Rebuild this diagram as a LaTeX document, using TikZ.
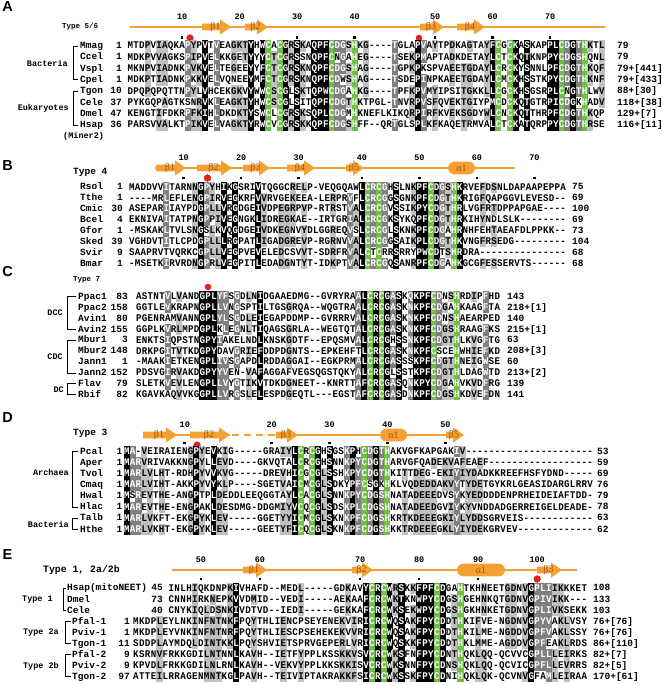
\documentclass[tikz,border=0pt]{standalone}
\usepackage{fontspec}
\setmainfont{Liberation Serif}
\newfontfamily\monofont{Liberation Mono}
\newfontfamily\seqfont[FakeStretch=0.9]{Liberation Mono}
\newfontfamily\panelfont{Liberation Sans}
\usepackage{tikz}
\usetikzlibrary{calc}
\definecolor{SSo}{RGB}{245,160,50}
\definecolor{SSt}{RGB}{160,85,15}
\definecolor{CG}{RGB}{112,190,70}
\definecolor{DGr}{RGB}{128,128,128}
\definecolor{LGr}{RGB}{192,192,192}
\definecolor{CR}{RGB}{232,32,32}

% current block: letter, x of column 1, column width, y of row 1, row step,
% x of names, right x of start numbers, x of end numbers
\def\alnp{A}\def\alnx{0}\def\alnw{5.75}\def\alny{0}\def\alnh{11}
\def\alnnx{80}\def\alnsx{122}\def\alnex{617}
\newcount\alnk

\ExplSyntaxOn
\seq_new:N \g__aln_rows_seq
\seq_new:N \l__aln_grp_seq
\clist_new:N \l__aln_green_clist
\tl_new:N \l__aln_char_tl
\tl_new:N \l__aln_grp_tl
\tl_new:N \l__aln_best_tl
\tl_new:N \l__aln_level_tl
\tl_new:N \l__aln_style_tl
\int_new:N \l__aln_best_int
\int_new:N \l__aln_cnt_int
\int_new:N \l__aln_n_int
\int_new:N \l__aln_len_int
\int_new:N \l__aln_row_int
% similarity groups
\cs_new:Npn \__aln_group:n #1
  {
    \str_case:nnF {#1}
      {
        {I}{h} {L}{h} {V}{h} {M}{h} {F}{h} {Y}{h} {W}{h}
        {K}{k} {R}{k} {D}{d} {E}{d} {S}{s} {T}{s} {N}{n} {Q}{n}
        {-}{} {.}{}
      }
      {#1}
  }
\cs_generate_variant:Nn \__aln_group:n { V }
\cs_new:Npn \__aln_isch:n #1
  { \str_case:nnF {#1} { {C}{y} {H}{y} } {n} }
\cs_generate_variant:Nn \__aln_isch:n { V }
\NewDocumentCommand \alnstore { m }
  { \seq_gput_right:Nn \g__aln_rows_seq {#1} }
\NewDocumentCommand \alnreset { }
  { \seq_gclear:N \g__aln_rows_seq \int_gzero:N \alnk }
\cs_new_protected:Npn \__aln_getchar:nn #1#2
  {
    \tl_set:Nx \l__aln_char_tl { \tl_item:nn {#1} {#2} }
    \tl_if_empty:NT \l__aln_char_tl { \tl_set:Nn \l__aln_char_tl {-} }
  }
\cs_new_protected:Npn \__aln_column:n #1
  {
    \seq_clear:N \l__aln_grp_seq
    \seq_map_inline:Nn \g__aln_rows_seq
      {
        \__aln_getchar:nn {##1} {#1}
        \seq_put_right:Nx \l__aln_grp_seq { \__aln_group:V \l__aln_char_tl }
      }
    \int_zero:N \l__aln_best_int
    \tl_clear:N \l__aln_best_tl
    \seq_map_inline:Nn \l__aln_grp_seq
      {
        \tl_if_empty:nF {##1}
          {
            \int_zero:N \l__aln_cnt_int
            \seq_map_inline:Nn \l__aln_grp_seq
              { \tl_if_eq:nnT {##1} {####1} { \int_incr:N \l__aln_cnt_int } }
            \int_compare:nNnT { \l__aln_cnt_int } > { \l__aln_best_int }
              {
                \int_set_eq:NN \l__aln_best_int \l__aln_cnt_int
                \tl_set:Nn \l__aln_best_tl {##1}
              }
          }
      }
    \int_compare:nNnTF { \l__aln_best_int } = { \l__aln_n_int }
      { \tl_set:Nn \l__aln_level_tl { cb } }
      {
        \int_compare:nNnTF { 5 * \l__aln_best_int } < { 3 * \l__aln_n_int }
          { \tl_set:Nn \l__aln_level_tl { cn } }
          {
            \int_compare:nNnTF { 5 * \l__aln_best_int } < { 4 * \l__aln_n_int }
              { \tl_set:Nn \l__aln_level_tl { cl } }
              { \tl_set:Nn \l__aln_level_tl { cd } }
          }
      }
    \int_zero:N \l__aln_row_int
    \seq_map_inline:Nn \g__aln_rows_seq
      {
        \int_incr:N \l__aln_row_int
        \__aln_getchar:nn {##1} {#1}
        \tl_set:Nx \l__aln_grp_tl { \__aln_group:V \l__aln_char_tl }
        \tl_set:Nn \l__aln_style_tl { cn }
        \tl_if_empty:NF \l__aln_grp_tl
          {
            \tl_if_eq:NNT \l__aln_grp_tl \l__aln_best_tl
              { \tl_set_eq:NN \l__aln_style_tl \l__aln_level_tl }
          }
        \clist_if_in:NnT \l__aln_green_clist {#1}
          {
            \str_if_eq:eeT { \__aln_isch:V \l__aln_char_tl } { y }
              { \tl_set:Nn \l__aln_style_tl { cg } }
          }
        \use:e
          {
            \exp_not:N \alncell
              { \l__aln_style_tl } { #1 }
              { \int_use:N \l__aln_row_int } { \l__aln_char_tl }
          }
      }
  }
\NewDocumentCommand \alndraw { m }
  {
    \clist_set:Nn \l__aln_green_clist {#1}
    \int_set:Nn \l__aln_n_int { \seq_count:N \g__aln_rows_seq }
    \int_zero:N \l__aln_len_int
    \seq_map_inline:Nn \g__aln_rows_seq
      {
        \int_set:Nn \l__aln_len_int
          { \int_max:nn { \l__aln_len_int } { \tl_count:n {##1} } }
      }
    \int_step_function:nN { \l__aln_len_int } \__aln_column:n
  }
\ExplSyntaxOff

\newcommand\alncell[4]{%
  \ifx.#4\else
    \node[#1] (\alnp-#3-#2) at ({\alnx+(#2-0.5)*\alnw},{\alny+(#3-1)*\alnh}) {#4};
  \fi}
\newcommand\alnrow[4]{%
  \global\advance\alnk by 1
  \node[seqname] (\alnp n\the\alnk) at (\alnnx,{\alny+(\the\alnk-1)*\alnh}) {#1};
  \node[seqnum, anchor=east] (\alnp s\the\alnk) at (\alnsx,{\alny+(\the\alnk-1)*\alnh}) {#2};
  \node[seqnum] (\alnp e\the\alnk) at (\alnex,{\alny+(\the\alnk-1)*\alnh}) {#4};
  \alnstore{#3}}
\newcommand\colx[1]{\alnx+(#1-0.5)*\alnw}
\newcommand\bstrand[5]{%
  \fill[SSo] (#2,{#4-3.4}) -- ({#3-11},{#4-3.4}) -- ({#3-11},{#4-7.6})
    -- (#3,#4) -- ({#3-11},{#4+7.6}) -- ({#3-11},{#4+3.4}) -- (#2,{#4+3.4}) -- cycle;
  \node[sslbl] (#1) at ({(#2+#3)/2-1},#4) {#5};}
\newcommand\ahelix[5]{%
  \fill[SSo, rounded corners=6.3pt] (#2,{#4-6.3}) rectangle (#3,{#4+6.3});
  \node[sslbl] (#1) at ({(#2+#3)/2},#4) {#5};}
\newcommand\rmark[2]{\fill ({\colx{#1}-1.3},{#2-1.3}) rectangle ++(2.6,2.6);}

\begin{document}
\begin{tikzpicture}[x=1pt,y=-1pt,
  cell/.style={inner sep=0pt, minimum width=\alnw pt+0.3pt, minimum height=\alnh pt+0.3pt,
    text height=6.6pt, text depth=1pt, font=\seqfont\bfseries\fontsize{10.2}{10}\selectfont},
  cn/.style={cell}, cb/.style={cell, fill=black, text=white},
  cd/.style={cell, fill=DGr, text=white}, cl/.style={cell, fill=LGr},
  cg/.style={cell, fill=CG, text=white},
  seqname/.style={inner sep=0pt, anchor=west, text height=6.3pt, text depth=1pt,
    font=\monofont\bfseries\fontsize{9.5}{10}\selectfont},
  seqnum/.style={seqname},
  grplbl/.style={inner sep=0pt, anchor=east, font=\monofont\bfseries\fontsize{8.5}{9}\selectfont},
  typelbl/.style={inner sep=0pt, anchor=west, font=\monofont\bfseries\fontsize{#1}{#1}\selectfont},
  rnum/.style={inner sep=0pt, font=\monofont\bfseries\fontsize{8.5}{9}\selectfont},
  plbl/.style={inner sep=0pt, font=\panelfont\bfseries\fontsize{14.5}{15}\selectfont},
  sslbl/.style={inner sep=0pt, text=SSt, font=\fontsize{10}{10}\selectfont},
  ssl/.style={draw=SSo, line width=2.4pt},
  brk/.style={draw=black, line width=0.9pt}
]
\fill[white] (0,0) rectangle (662,685);
\useasboundingbox (0,0) rectangle (662,685);

% ---------- A: type 5/6
\def\alnp{A}\def\alnx{127.5}\def\alnw{5.75}\def\alny{46}\def\alnh{11.3}
\def\alnnx{80}\def\alnsx{122}\def\alnex{617}
\alnreset
\node[plbl] (pA) at (7.5,7) {A};
\node[typelbl=7.5] (tA) at (62,27) {Type 5/6};
\draw[ssl] (130,27) -- (605,27);
\bstrand{A1}{202}{231}{27}{β1}
\bstrand{A2}{245}{268}{27}{β2}
\bstrand{A3}{420}{444}{27}{β3}
\bstrand{A4}{457}{485}{27}{β4}
\foreach \n/\c in {10/10,20/20,30/30,40/40,50/54,60/64,70/74}
  \node[rnum] (Ar\n) at ({\colx{\c}},17) {\n};
\foreach \c in {10,30,40,54,64,74} \rmark{\c}{37.5}
\fill[CR] (190,38) circle (3.3);
\fill[CR] (419,38) circle (3.3);
\alnrow{Mmag}{1}{MTDPVIAQKAPYPVTVEAGKTYHWCACGRSKAQPFCDGSHKG----TGLAPVAYTPDKAGTAYFCGCKASKAPPLCDGTHKTL}{79}
\alnrow{Ccel}{1}{MDKPVVAGKSPIPVELKKGETYYYCTCGRSSNQPFCNGAHEG----TSEKPMAPTADKDETAYLCTCKQTKNPPYCDGSHQNL}{79}
\alnrow{Vspl}{1}{MKNPVIADNKPVKVELTEGEEYYFCTCGRSKNQPFCDGSHAG----TGPKPKSPVAEETGDAYLCRCKYSNNLPFCDGTHKQF}{79+[441]}
\alnrow{Cpel}{1}{MDKPTIADNKPKKVELVQNEEYMFCTCGRSKNQPFCDWSHAG----TSDEPINPKAEETGDAYLCMCKHSSTKPYCDGTHKNF}{79+[433]}
\alnrow{Tgon}{10}{DPQPQPQTTNPYLVHCEKGKVYWWCSCGLSKTQPWCDGAHKG----TPFKPVMYIPSITGKKLLCGCKHSGSRPLCNGTHLWV}{88+[30]}
\alnrow{Cele}{37}{PYKGQPAGTKSNRVKLEAGKTYHWCSCGLSITQPFCDGTHKTPGL-TNVRPVSFQVEKTGIYPMCDCKQTGTRPICDGKHADV}{118+[38]}
\alnrow{Dmel}{47}{KENGTIFDKRPFKIHLDKDKTYSWCLCGRSKSQPLCDGMHKNEFLKIKQRPIRFKVEKSGDYWLCNCKQTTHRPFCDGTHKQP}{129+[7]}
\alnrow{Hsap}{36}{PARSVVALKTPIKVELVAGKTYRWCVCGRSKKQPFCDGSHFF--QRTGLSPLKFKAQETRMVALCTCKATQRPPYCDGTHRSE}{116+[11]}
\alndraw{25,27,36,40,65,67,76,80}
\node[grplbl] (gA1) at (68,63) {Bacteria};
\node[grplbl] (gA2) at (69,108) {Eukaryotes};
\node[grplbl, anchor=west] (gA3) at (63,136) {(Miner2)};
\draw[brk] ([xshift=-2pt]An1.west) -- ++(-5,0) |- ([xshift=-2pt]An4.west);
\draw[brk] ([xshift=-2pt]An5.west) -- ++(-5,0) |- ([xshift=-2pt]An8.west);

% ---------- B: type 4
\def\alnp{B}\def\alnx{129}\def\alnw{5.75}\def\alny{187.3}\def\alnh{10.9}
\def\alnnx{80}\def\alnsx{123}\def\alnex{572}
\alnreset
\node[plbl] (pB) at (7.5,166) {B};
\node[typelbl=9.5] (tB) at (73,172) {Type 4};
\draw[ssl] (155,168) -- (515,168);
\bstrand{B1}{156}{186}{168}{β1}
\bstrand{B2}{197}{232}{168}{β2}
\bstrand{B3}{243}{270}{168}{β3}
\bstrand{B4}{287}{315}{168}{β4}
\bstrand{B5}{346}{364}{168}{β5}
\ahelix{Ba}{448}{475}{168}{α1}
\foreach \n/\c in {10/10,20/20,30/30,40/41,50/51,60/61,70/71}
  \node[rnum] (Br\n) at ({\colx{\c}},158) {\n};
\foreach \c in {10,20,30,41,51,61,71} \rmark{\c}{178}
\fill[CR] (207.5,178) circle (3.3);
\alnrow{Rsol}{1}{MADDVVITARNNGPYHIKGSRIVTQGGCRELP-VEQGQAWLCRCGHSLNKPFCDGSHKRVEFDSNLDAPAAPEPPA}{75}
\alnrow{Tthe}{1}{----MRLEFLENGPIRVEGKRFVVRVGEKEEA-LERPRVFLCRCGGSGNKPFCDGTHKRIGFQAPGGVLEVESD}{69}
\alnrow{Cmic}{30}{ASEPARIIAYPDGPLLVRGDGEIVDPEGRPVP-RTRSTVALCRCGVSSIKPYCDGTHRLVGFRTDPPAPGAE}{100}
\alnrow{Bcel}{4}{EKNIVAITATPNGPPIVEGNGKLIDREGKAE--IRTGRIALCRCGKSYKQPFCDGTHRKIHYNDLSLK}{69}
\alnrow{Gfor}{1}{-MSKAKLTVLSNGSLKVQGDGEIVDKEGNVYDLGGREQVSLCRCGLSKNKPFCDGAHRNHFEHTAEAFDLPPKK}{73}
\alnrow{Sked}{39}{VGHDVTITLCPDGPLLLRGPATLIGADGREVP-RGRNVVALCRCGGSAIKPLCDGTHKVNGFRSEDG}{104}
\alnrow{Svir}{9}{SAAPRVTVQRKCGPLLVEGPVEVELEDCSVVT-SDRFRVALCTCRRSRRYPWCDTSHRDRA}{68}
\alnrow{Bmar}{1}{-MSETKIRVRDNGPRLVEGPITLEDADGNTYT-IDKPTVALCRCGQSANRPFCDGAHKGCGFESSERVTS}{68}
\alndraw{42,44,53,57}

% ---------- C: type 7
\def\alnp{C}\def\alnx{136}\def\alnw{5.78}\def\alny{296.7}\def\alnh{10.9}
\def\alnnx{78}\def\alnsx{128}\def\alnex{507}
\alnreset
\node[plbl] (pC) at (7.5,272) {C};
\node[typelbl=7.5] (tC) at (73,280) {Type 7};
\fill[CR] (208,287) circle (3.3);
\alnrow{Ppac1}{83}{ASTNTVLVANDGPLYFSGDLNIDGAAEDMG--GVRYRAALCRCGASKQKPFCDNSHRDIPFHD}{143}
\alnrow{Ppac2}{158}{GGTLEVKRAPNGPLLVNGSPTILTGSGRQA--WQGTRAALCRCGASKNKPFCDGAHKAAGFTA}{218+[1]}
\alnrow{Avin1}{80}{PGENRAMVANNGPLYLSGDLEIEGAPDDMP--GVRRRVALCRCGASKNKPFCDNSHAEARPED}{140}
\alnrow{Avin2}{155}{GGPLKVRLMPDGPLKLEGNLTIQAGSGRLA--WEGTQTALCRCGASKNKPFCDGSHRAAGFKS}{215+[1]}
\alnrow{Mbur1}{3}{ENKTSIQPSTNGPYIAKELNDLKNSKGDTF--EPQSMVALCRCGHSSNKPFCDGTHLKVGFTG}{63}
\alnrow{Mbur2}{148}{DRKPGITVTKDGPYDAVGRIEFDDPDGNTS--EPKEHFTLCRCGASKNKPFCSCEHWHIEFKD}{208+[3]}
\alnrow{Jann1}{1}{-MAAKIETKENGPLIVSGAPDLRDDAGGAI--EGKPRMALCRCGASSSKPFCDGTHNEIGWSE}{60}
\alnrow{Jann2}{152}{PDSVGIRVAKDGPYYVEN-VAFAGGAFVEGSQGSTQKYALCRCGLSSTKPFCDGTHLDAGWTD}{213+[2]}
\alnrow{Flav}{79}{SLETKVEVLENGPLLVYGTIKVTDKDGNEET--KNRTTAFCRCGASQNKPYCDGAHVKVDFRG}{139}
\alnrow{Rbif}{82}{KGAVKAQVVKGGPLLVRGSLELESPDGEQTL---EGSTAFCRCGASDNKPFCDGSHKDVEFDN}{141}
\alndraw{41,43,52,56}
\node[grplbl] (gC1) at (63,313) {DCC};
\node[grplbl] (gC2) at (63,356.5) {CDC};
\node[grplbl] (gC3) at (64,390) {DC};
\draw[brk] ([xshift=-2pt]Cn1.west) -- ++(-9,0) |- ([xshift=-2pt]Cn4.west);
\draw[brk] ([xshift=-2pt]Cn5.west) -- ++(-9,0) |- ([xshift=-2pt]Cn8.west);
\draw[brk] ([xshift=-2pt]Cn9.west) -- ++(-9,0) |- ([xshift=-2pt]Cn10.west);

% ---------- D: type 3
\def\alnp{D}\def\alnx{124}\def\alnw{5.79}\def\alny{451.7}\def\alnh{11.1}
\def\alnnx{80}\def\alnsx{122.5}\def\alnex{597}
\alnreset
\node[plbl] (pD) at (7.5,418) {D};
\node[typelbl=9.5] (tD) at (73,433) {Type 3};
\draw[ssl] (143,435) -- (230,435);
\draw[ssl, dash pattern=on 7pt off 5pt] (232,435) -- (276,435);
\draw[ssl] (276,435) -- (455,435);
\bstrand{D1}{143}{177}{435}{β1}
\bstrand{D2}{190}{230}{435}{β2}
\bstrand{D3}{276}{298}{435}{β3}
\ahelix{Da}{380}{407}{435}{α1}
\bstrand{D5}{446}{464}{435}{β5}
\foreach \n/\c in {10/11,20/26,30/36,40/46,50/56}
  \node[rnum] (Dr\n) at ({\colx{\c}},425) {\n};
\foreach \c in {11,26,36,46,56} \rmark{\c}{443}
\fill[CR] (197,445) circle (3.3);
\alnrow{Pcal}{1}{MA-VEIRAIENGPYEVKIG-----GRAIYLCRCGHSGSKPHCDGTHAKVGFKAPGAKIV}{53}
\alnrow{Aper}{1}{MARVRIVAKKNGPYLLEVD----GKVQTALCRCGHSNNKPYCDGTHARVGFQADEKVAFEAEF}{59}
\alnrow{Tvol}{1}{MARLVLHT-RDHPYVVKVG-----DREVHICGCGLSSHKPYCDGTHKITTDEG-EKIYIYDADKKREEFHSFYDND}{69}
\alnrow{Cmaq}{1}{MARLVIHT-AKKPYVYKLP----SGETVAICMCGLSDKYPFCSGKHKLVQDEDDAKVYTYDETGYKRLGEASIDARGLRRV}{76}
\alnrow{Hwal}{1}{MSREVTHE-ANGPTPLDEDDLEEQGGTAYLCACGLSNNKPYCDGSHNATADEEEDVSYKYEDDDDENPRHEIDEIAFTDD}{79}
\alnrow{Hlac}{1}{MAREVTHE-ENGPAKLDESDMG-DDGMIYVCQCGLSDSKPLCDGSHNATADEEDGVIYKYVNDDADGERREIGELDEADE}{78}
\alnrow{Talb}{1}{MARLVKFT-EKGPYKLEV-----GGETYYICMCGLSKNKPFCDGSHKRTKDEEEGKIYLYDDSGRVEIS}{63}
\alnrow{Hthe}{1}{MARLVKHT-EKGPYKLEV-----GEETYFICQCGLSKNKPFCDGSHKKTRDEEEGKLYIYDEKGRVEV}{62}
\alndraw{31,33,42,46}
\node[grplbl] (gD1) at (69,472) {Archaea};
\node[grplbl] (gD2) at (69,524) {Bacteria};
\draw[brk] ([xshift=-2pt]Dn1.west) -- ++(-6,0) |- ([xshift=-2pt]Dn6.west);
\draw[brk] ([xshift=-2pt]Dn7.west) -- ++(-6,0) |- ([xshift=-2pt]Dn8.west);

% ---------- E: type 1, 2a/2b
\def\alnp{E}\def\alnx{133}\def\alnw{5.9}\def\alny{588.3}\def\alnh{11.05}
\def\alnnx{67}\def\alnsx{163}\def\alnex{593}
\alnreset
\node[plbl] (pE) at (7.5,555) {E};
\node[typelbl=9.8] (tE) at (43,570) {Type 1, 2a/2b};
\draw[ssl] (172,570) -- (577,570);
\bstrand{E1}{243}{267}{570}{β1}
\bstrand{E2}{352}{373}{570}{β2}
\ahelix{Ea}{457}{505}{570}{α1}
\bstrand{E3}{537}{562}{570}{β3}
\foreach \n/\c in {50/12,60/22,70/39,80/49,90/59,100/69}
  \node[rnum] (Er\n) at ({\colx{\c}},560) {\n};
\foreach \c in {12,22,39,49,59} \rmark{\c}{579}
\fill[CR] ({\colx{69}},579) circle (3.3);
\alnrow{Hsap(mitoNEET)}{45}{......INLHIQKDNPKIVHAFD--MEDL-----GDKAVYCRCWRSKKFPFCDGAHTKHNEETGDNVGPLIIKKKET}{108}
\alnrow{Dmel}{73}{......CNNHIRKNEPKVVDMID--VEDI-----AEKAAFCRCWKTKNWPYCDGSHGEHNKQTGDNVGPIVIKK}{133}
\alnrow{Cele}{40}{......CNYKIQLDSNKIVDTVD--IEDI-----GEKKAFCRCWKSEKWPYCDGSHGKHNKETGDNVGPLIVKSEKK}{103}
\def\alnnx{72}\def\alnsx{130}
\alnrow{Pfal-1}{1}{MKDPLEYLNKINFNTNKFPQYTHLIENCPSEYENEKVIRICRCWQSAKFPYCDDTHKIFVE-NGDNVGPYVAKLVSY}{76+[76]}
\alnrow{Pviv-1}{1}{MKDPLEYVNKINFNTNRFPQYTHLIESCPSEHEKEKVVRICRCWQSAKFPYCDDTHKILME-NGDDVGPFVAKLSSY}{76+[76]}
\alnrow{Tgon-1}{11}{SDDPLAYMDQLDINTKKLPQYSHVIETSPRVGEPERLVRICRCWQSKKFPYCDDTHKLMME-AGDDVGPFEAKLRDS}{86+[110]}
\alnrow{Pfal-2}{9}{KSRNVFRKKGDILNTNNLKAVH--IETFYPPLKSSKKVSVCRCWKSFNFPYCDNTHQKLQQ-QCVVCGPLLLEIRKS}{82+[7]}
\alnrow{Pviv-2}{9}{KPVDLFRKKGDILNLRNLKAVH--VEKVYPPLKKSKKISVCRCWKSNNFPYCDNSHQKLQQ-QCVICGPFLLEVRRS}{82+[5]}
\alnrow{Tgon-2}{97}{ATTEILRRAGENMNTKGLPAVH--TEIVIPTAKRAKKFSICRCWKSSKFPYCDNIHQKLQK-QCVNVGFAMLEIRAA}{170+[61]}
\alndraw{41,43,52,56}
\node[grplbl] (gE1) at (53,599.3) {Type 1};
\node[grplbl] (gE2) at (59,632.7) {Type 2a};
\node[grplbl] (gE3) at (59,666) {Type 2b};
\draw[brk] ([xshift=-1pt]En1.west) -- ++(-3,0) |- ([xshift=-1pt]En3.west);
\draw[brk] ([xshift=-1.5pt]En4.west) -- ++(-5.5,0) |- ([xshift=-1.5pt]En6.west);
\draw[brk] ([xshift=-1.5pt]En7.west) -- ++(-5.5,0) |- ([xshift=-1.5pt]En9.west);
\end{tikzpicture}
\end{document}
